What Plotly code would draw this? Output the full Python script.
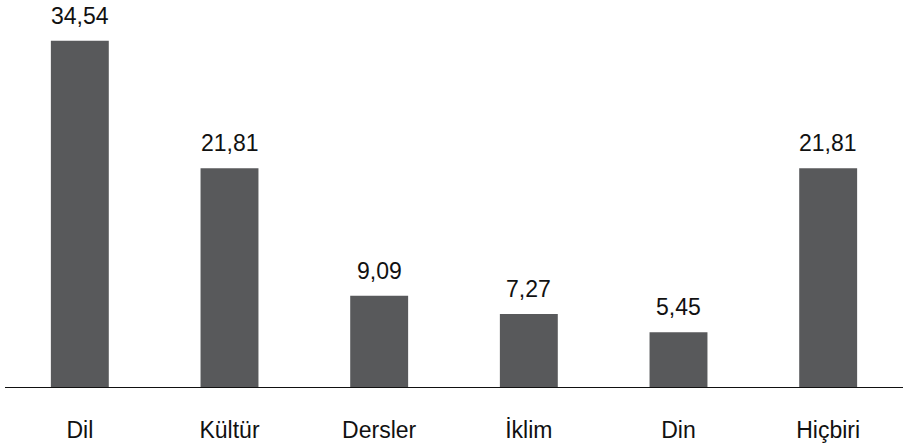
import plotly.graph_objects as go

categories = ["Dil", "Kültür", "Dersler", "İklim", "Din", "Hiçbiri"]
values = [34.54, 21.81, 9.09, 7.27, 5.45, 21.81]
value_labels = ["34,54", "21,81", "9,09", "7,27", "5,45", "21,81"]

FONT = "Liberation Sans, Arial, Helvetica, sans-serif"

fig = go.Figure()
fig.add_trace(go.Bar(
    x=categories, y=values,
    marker=dict(color="#58595b", line=dict(width=0)),
    width=0.387,
    hoverinfo="skip",
))

for c, v, t in zip(categories, values, value_labels):
    fig.add_annotation(x=c, y=v, text=t, showarrow=False, yanchor="bottom",
                       yshift=10, font=dict(family=FONT, size=23, color="#111111"))

fig.update_layout(
    width=903, height=446,
    margin=dict(l=5, r=0, t=10, b=59),
    plot_bgcolor="white", paper_bgcolor="white",
    showlegend=False,
    xaxis=dict(showline=True, linecolor="#111111", linewidth=1.2, ticks="",
               showgrid=False, tickfont=dict(family=FONT, size=23, color="#111111"),
               ticklabelstandoff=22, fixedrange=True),
    yaxis=dict(range=[0, 37.6], visible=False, showgrid=False, zeroline=False,
               fixedrange=True),
)

fig.write_html("out.html", config={"displayModeBar": False, "staticPlot": True},
               post_script="document.body.style.margin='0';document.body.style.padding='0';")
